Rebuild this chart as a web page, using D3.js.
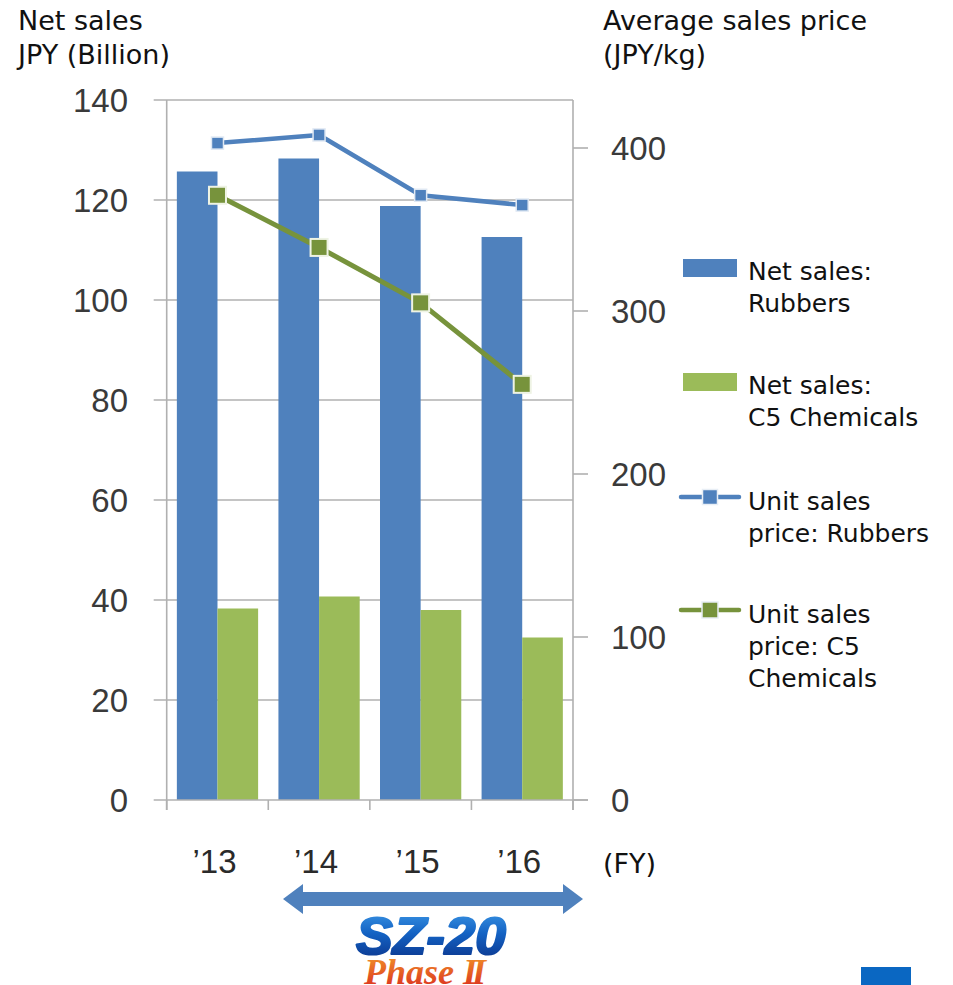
<!DOCTYPE html>
<html>
<head>
<meta charset="utf-8">
<script src="https://cdn.jsdelivr.net/npm/d3@7/dist/d3.min.js"></script>
<style>
  html, body { margin: 0; padding: 0; background: #ffffff; }
  svg { display: block; }
</style>
</head>
<body>
<svg id="chart" width="953" height="985"></svg>
<script>
// Fiscal years on the category axis
const years = ["\u201913", "\u201914", "\u201915", "\u201916"];

// Net sales, JPY billion (left axis)
const salesRubbers = [125.7, 128.3, 118.8, 112.6];
const salesC5 = [38.3, 40.7, 38.0, 32.5];

// Average unit sales price, JPY/kg (right axis)
const priceRubbers = [403, 408, 371, 365];
const priceC5 = [371, 339, 305, 255];

// Axis ticks
const leftTicks = [0, 20, 40, 60, 80, 100, 120, 140];
const rightTicks = [0, 100, 200, 300, 400];

const legendItems = [
  { type: "bar", color: "#4f81bd", lines: ["Net sales:", "Rubbers"] },
  { type: "bar", color: "#9bbb59", lines: ["Net sales:", "C5 Chemicals"] },
  { type: "line", color: "#4f81bd", marker: 15, lines: ["Unit sales", "price: Rubbers"] },
  { type: "line", color: "#77933c", marker: 16, lines: ["Unit sales", "price: C5", "Chemicals"] }
];

const svg = d3.select("#chart");
const plot = { left: 166.7, right: 573, top: 100, bottom: 800 };

const x = d3.scaleBand().domain(years).range([plot.left, plot.right])
  .paddingInner(0.2).paddingOuter(0.1);
const xSub = d3.scaleBand().domain(["r", "c"]).range([0, x.bandwidth()]);
const yLeft = d3.scaleLinear().domain([0, 140]).range([plot.bottom, plot.top]);
const yRight = d3.scaleLinear().domain([0, 400]).range([plot.bottom, 148]);

const sans = "'Liberation Sans', Arial, sans-serif";
const verd = "'DejaVu Sans', Verdana, sans-serif";
const gridColor = "#b0b0b0";

// Horizontal gridlines + left tick marks
svg.append("g").selectAll("line").data(leftTicks.filter(t => t > 0)).join("line")
  .attr("x1", plot.left - 13).attr("x2", plot.right)
  .attr("y1", d => yLeft(d)).attr("y2", d => yLeft(d))
  .attr("stroke", gridColor).attr("stroke-width", 1.6);

// Left and right axis lines
svg.append("line").attr("x1", plot.left).attr("x2", plot.left)
  .attr("y1", plot.top).attr("y2", plot.bottom + 10)
  .attr("stroke", gridColor).attr("stroke-width", 1.6);
svg.append("line").attr("x1", plot.right).attr("x2", plot.right)
  .attr("y1", plot.top).attr("y2", plot.bottom + 10)
  .attr("stroke", gridColor).attr("stroke-width", 1.6);

// Right axis tick marks
svg.append("g").selectAll("line").data(rightTicks).join("line")
  .attr("x1", plot.right).attr("x2", plot.right + 15)
  .attr("y1", d => yRight(d)).attr("y2", d => yRight(d))
  .attr("stroke", gridColor).attr("stroke-width", 1.6);

// Bars
const barG = svg.append("g");
barG.selectAll("rect.r").data(years).join("rect").attr("class", "r")
  .attr("x", (d) => x(d) + xSub("r"))
  .attr("width", xSub.bandwidth())
  .attr("y", (d, i) => yLeft(salesRubbers[i]))
  .attr("height", (d, i) => yLeft(0) - yLeft(salesRubbers[i]))
  .attr("fill", "#4f81bd");
barG.selectAll("rect.c").data(years).join("rect").attr("class", "c")
  .attr("x", (d) => x(d) + xSub("c"))
  .attr("width", xSub.bandwidth())
  .attr("y", (d, i) => yLeft(salesC5[i]))
  .attr("height", (d, i) => yLeft(0) - yLeft(salesC5[i]))
  .attr("fill", "#9bbb59");

// Category axis baseline and tick marks at band boundaries
svg.append("line").attr("x1", plot.left - 13).attr("x2", plot.right + 15)
  .attr("y1", plot.bottom).attr("y2", plot.bottom)
  .attr("stroke", gridColor).attr("stroke-width", 1.6);
const bounds = years.map(d => x(d) - x.step() * x.paddingInner() / 2).concat([plot.right]);
bounds[0] = plot.left;
svg.append("g").selectAll("line").data(bounds).join("line")
  .attr("x1", d => d).attr("x2", d => d)
  .attr("y1", plot.bottom).attr("y2", plot.bottom + 10)
  .attr("stroke", gridColor).attr("stroke-width", 1.6);

// Price lines
const cx = d => x(d) + x.bandwidth() / 2;
function drawLine(values, color, width, size, borderColor, borderW) {
  const line = d3.line().x((d, i) => cx(years[i])).y(d => yRight(d));
  svg.append("path").datum(values).attr("d", line)
    .attr("fill", "none").attr("stroke", color).attr("stroke-width", width)
    .attr("stroke-linejoin", "round");
  svg.append("g").selectAll("rect").data(values).join("rect")
    .attr("x", (d, i) => cx(years[i]) - size / 2)
    .attr("y", d => yRight(d) - size / 2)
    .attr("width", size).attr("height", size)
    .attr("fill", color).attr("stroke", borderColor).attr("stroke-width", borderW);
}
drawLine(priceRubbers, "#4f81bd", 4.5, 12, "#dfe8f3", 1.5);
drawLine(priceC5, "#77933c", 5, 17, "#eef3e4", 2);

// Tick labels
svg.append("g").selectAll("text").data(leftTicks).join("text")
  .attr("x", 128).attr("y", d => yLeft(d) + 12)
  .attr("text-anchor", "end").attr("font-family", sans).attr("font-size", 33)
  .attr("fill", "#3a3a3a").text(d => d);
svg.append("g").selectAll("text").data(rightTicks).join("text")
  .attr("x", 611).attr("y", d => yRight(d) + 12)
  .attr("text-anchor", "start").attr("font-family", sans).attr("font-size", 33)
  .attr("fill", "#3a3a3a").text(d => d);
svg.append("g").selectAll("text").data(years).join("text")
  .attr("x", d => cx(d) - 3).attr("y", 873)
  .attr("text-anchor", "middle").attr("font-family", sans).attr("font-size", 33)
  .attr("fill", "#2a2a2a").text(d => d);

// Axis titles
const titleStyle = t => t.attr("font-family", verd).attr("font-size", 27).attr("fill", "#111");
svg.append("text").attr("x", 18).attr("y", 30).text("Net sales").call(titleStyle);
svg.append("text").attr("x", 18).attr("y", 64).text("JPY (Billion)").call(titleStyle);
svg.append("text").attr("x", 603).attr("y", 30).text("Average sales price").call(titleStyle);
svg.append("text").attr("x", 603).attr("y", 64).text("(JPY/kg)").call(titleStyle);
svg.append("text").attr("x", 603).attr("y", 873).text("(FY)").call(titleStyle);

// Legend
const legendTop = [259, 373, 489, 602];
const lg = svg.append("g");
legendItems.forEach((item, i) => {
  const top = legendTop[i];
  if (item.type === "bar") {
    lg.append("rect").attr("x", 683).attr("y", top).attr("width", 54).attr("height", 18)
      .attr("fill", item.color);
  } else {
    const cy = top + 8;
    lg.append("line").attr("x1", 681).attr("x2", 739).attr("y1", cy).attr("y2", cy)
      .attr("stroke", item.color).attr("stroke-width", 4.5).attr("stroke-linecap", "round");
    lg.append("rect").attr("x", 710 - item.marker / 2).attr("y", cy - item.marker / 2)
      .attr("width", item.marker).attr("height", item.marker)
      .attr("fill", item.color).attr("stroke", "#e8eef5").attr("stroke-width", 1.5);
  }
  item.lines.forEach((ln, j) => {
    lg.append("text").attr("x", 748).attr("y", top + 21 + j * 32)
      .attr("font-family", verd).attr("font-size", 25).attr("fill", "#111").text(ln);
  });
});

// Double-headed arrow spanning the plan period
const arrowX0 = 283, arrowX1 = 583, arrowY = 899;
const head = 20, shaft = 7, wing = 15;
const arrowPts = [
  [arrowX0, arrowY], [arrowX0 + head, arrowY - wing], [arrowX0 + head, arrowY - shaft],
  [arrowX1 - head, arrowY - shaft], [arrowX1 - head, arrowY - wing], [arrowX1, arrowY],
  [arrowX1 - head, arrowY + wing], [arrowX1 - head, arrowY + shaft],
  [arrowX0 + head, arrowY + shaft], [arrowX0 + head, arrowY + wing]
];
svg.append("path").attr("d", d3.line()(arrowPts) + "Z").attr("fill", "#4f81bd");

// Plan logo
const defs = svg.append("defs");
const gBlue = defs.append("linearGradient").attr("id", "gBlue")
  .attr("x1", 0).attr("y1", 0).attr("x2", 0).attr("y2", 1);
gBlue.append("stop").attr("offset", "0%").attr("stop-color", "#3f9be8");
gBlue.append("stop").attr("offset", "45%").attr("stop-color", "#1463c4");
gBlue.append("stop").attr("offset", "100%").attr("stop-color", "#0a2f86");
const gOrange = defs.append("linearGradient").attr("id", "gOrange")
  .attr("x1", 0).attr("y1", 0).attr("x2", 0).attr("y2", 1);
gOrange.append("stop").attr("offset", "0%").attr("stop-color", "#f39a2a");
gOrange.append("stop").attr("offset", "100%").attr("stop-color", "#d8261e");

svg.append("text").attr("x", 356).attr("y", 954)
  .attr("font-family", sans).attr("font-weight", "bold").attr("font-style", "italic")
  .attr("font-size", 52).attr("textLength", 150).attr("lengthAdjust", "spacingAndGlyphs")
  .attr("fill", "url(#gBlue)").attr("stroke", "url(#gBlue)").attr("stroke-width", 2.2)
  .attr("stroke-linejoin", "round")
  .text("SZ-20");
const phase = svg.append("text").attr("x", 364).attr("y", 984)
  .attr("font-family", "'Liberation Serif', 'Times New Roman', serif")
  .attr("font-style", "italic").attr("font-weight", "bold")
  .attr("font-size", 36).attr("fill", "url(#gOrange)");
phase.append("tspan").text("Phase ");
phase.append("tspan").attr("letter-spacing", -5).text("II");

// Page number tab
svg.append("rect").attr("x", 861).attr("y", 967).attr("width", 50).attr("height", 18)
  .attr("fill", "#0a67c2");
svg.append("text").attr("x", 886).attr("y", 1008).attr("text-anchor", "middle")
  .attr("font-family", sans).attr("font-weight", "bold").attr("font-size", 34)
  .attr("fill", "#ffffff").text("6");
</script>
</body>
</html>
